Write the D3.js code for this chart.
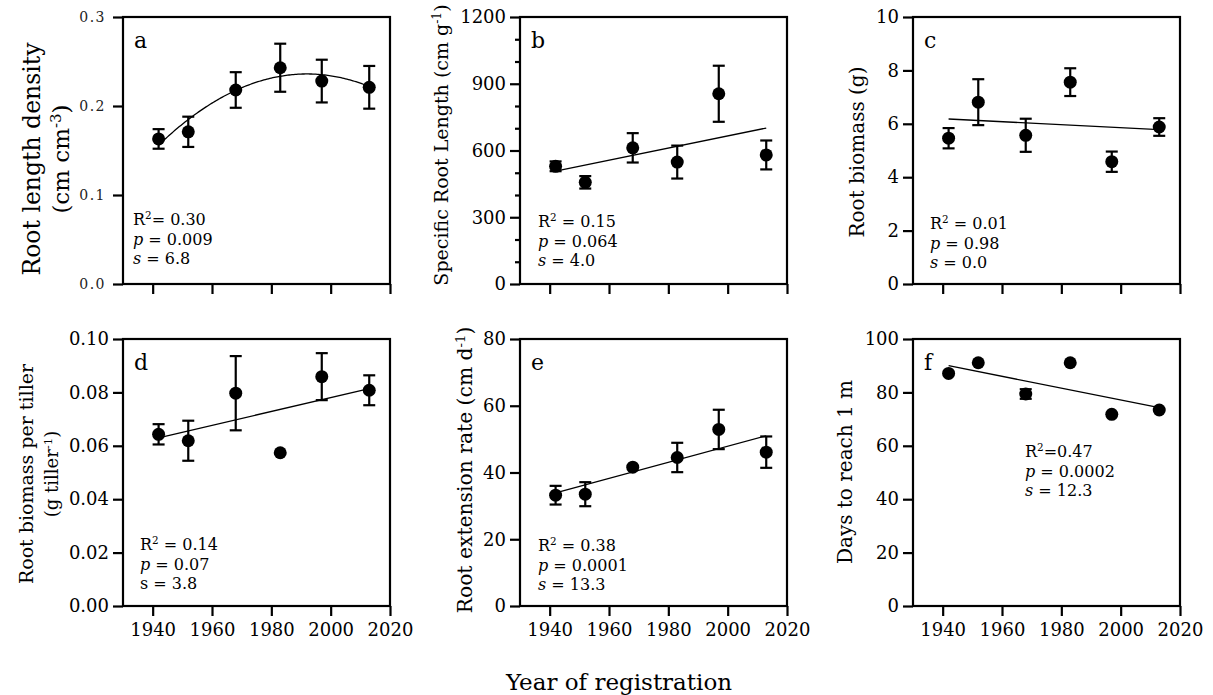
<!DOCTYPE html>
<html><head><meta charset="utf-8">
<script src="https://cdn.jsdelivr.net/npm/d3@7"></script>
<style>
html,body{margin:0;padding:0;background:#fff;}
svg text{font-family:"DejaVu Serif",serif;fill:#000;}
</style></head><body><svg id="chart" width="1213" height="695"></svg>
<script>
// Cultivar year of registration (shared x values)
const years = [1942, 1952, 1968, 1983, 1997, 2013];
const xTicks = [1940, 1960, 1980, 2000, 2020];

// (a) root length density, cm cm-3
const rldMean = [0.163, 0.171, 0.218, 0.243, 0.228, 0.221];
const rldErr  = [0.011, 0.017, 0.020, 0.027, 0.024, 0.024];
const rldTicks = [0.0, 0.1, 0.2, 0.3];
const rldFit = { peakYear: 1992, peak: 0.236, curvature: -3.2e-5 }; // quadratic fit

// (b) specific root length, cm g-1
const srlMean = [529, 457, 612, 548, 855, 580];
const srlErr  = [22, 28, 66, 74, 126, 65];
const srlTicks = [0, 300, 600, 900, 1200];
const srlMinor = [100, 200, 400, 500, 700, 800, 1000, 1100];
const srlFit = [507, 701]; // fitted values at first and last year

// (c) root biomass, g
const rbMean = [5.46, 6.81, 5.57, 7.56, 4.58, 5.88];
const rbErr  = [0.38, 0.86, 0.62, 0.52, 0.38, 0.33];
const rbTicks = [0, 2, 4, 6, 8, 10];
const rbFit = [6.18, 5.78];

// (d) root biomass per tiller, g tiller-1
const rbtMean = [0.0643, 0.0619, 0.0797, 0.0574, 0.0859, 0.0808];
const rbtErr  = [0.0038, 0.0075, 0.0139, 0.0, 0.0088, 0.0056];
const rbtTicks = [0.00, 0.02, 0.04, 0.06, 0.08, 0.10];
const rbtFit = [0.0630, 0.0814];

// (e) root extension rate, cm d-1
const rerMean = [33.2, 33.5, 41.6, 44.5, 52.9, 46.1];
const rerErr  = [2.8, 3.6, 0.0, 4.4, 5.9, 4.7];
const rerTicks = [0, 20, 40, 60, 80];
const rerFit = [33.9, 51.0];

// (f) days to reach 1 m
const daysMean = [87.1, 91.1, 79.4, 91.1, 71.8, 73.4];
const daysErr  = [0, 0, 1.8, 0, 0, 0];
const daysTicks = [0, 20, 40, 60, 80, 100];
const daysFit = [90.0, 74.3];

// Regression statistics text
const statsA = [[["R"], ["2", "sup"], ["= 0.30"]], [["p", "it"], [" = 0.009"]], [["s", "it"], [" = 6.8"]]];
const statsB = [[["R"], ["2", "sup"], [" = 0.15"]], [["p", "it"], [" = 0.064"]], [["s", "it"], [" = 4.0"]]];
const statsC = [[["R"], ["2", "sup"], [" = 0.01"]], [["p", "it"], [" = 0.98"]], [["s", "it"], [" = 0.0"]]];
const statsD = [[["R"], ["2", "sup"], [" = 0.14"]], [["p", "it"], [" = 0.07"]], [["s = 3.8"]]];
const statsE = [[["R"], ["2", "sup"], [" = 0.38"]], [["p", "it"], [" = 0.0001"]], [["s", "it"], [" = 13.3"]]];
const statsF = [[["R"], ["2", "sup"], ["=0.47"]], [["p", "it"], [" = 0.0002"]], [["s", "it"], [" = 12.3"]]];

// Axis titles
const titleA = [[["Root length density"]], [["(cm cm"], ["-3", "sup"], [")"]]];
const titleB = [[["Specific Root Length (cm g"], ["-1", "sup"], [")"]]];
const titleC = [[["Root biomass (g)"]]];
const titleD = [[["Root biomass per tiller"]], [["(g tiller"], ["-1", "sup"], [")"]]];
const titleE = [[["Root extension rate (cm d"], ["-1", "sup"], [")"]]];
const titleF = [[["Days to reach 1 m"]]];

const svg = d3.select("#chart");
svg.append("rect").attr("width", 1213).attr("height", 695).attr("fill", "#fff");

const colX = [[123, 390], [520, 787], [913, 1180]];
const rowY = [[17, 284], [339, 606]];

const panels = [
  { letter: "a", col: 0, row: 0, mean: rldMean, err: rldErr, ticks: rldTicks, max: 0.3,
    fmt: d3.format(".1f"), smallTicks: true, stats: statsA, statX: 133, statY: 225,
    title: titleA, titleX: [32, 61], titleY: 159, titleSize: [23.5, 23] },
  { letter: "b", col: 1, row: 0, mean: srlMean, err: srlErr, ticks: srlTicks, minor: srlMinor, max: 1200,
    fmt: d3.format("d"), fit: srlFit, stats: statsB, statX: 538, statY: 227,
    title: titleB, titleX: [441], titleY: 145, titleSize: [19] },
  { letter: "c", col: 2, row: 0, mean: rbMean, err: rbErr, ticks: rbTicks, max: 10,
    fmt: d3.format("d"), fit: rbFit, stats: statsC, statX: 930, statY: 229,
    title: titleC, titleX: [857], titleY: 152, titleSize: [20] },
  { letter: "d", col: 0, row: 1, mean: rbtMean, err: rbtErr, ticks: rbtTicks, max: 0.10,
    fmt: d3.format(".2f"), fit: rbtFit, xLabels: true, stats: statsD, statX: 140, statY: 550,
    title: titleD, titleX: [26, 52], titleY: 474, titleSize: [19, 18] },
  { letter: "e", col: 1, row: 1, mean: rerMean, err: rerErr, ticks: rerTicks, max: 80,
    fmt: d3.format("d"), fit: rerFit, xLabels: true, stats: statsE, statX: 538, statY: 551,
    title: titleE, titleX: [465], titleY: 470, titleSize: [20.3] },
  { letter: "f", col: 2, row: 1, mean: daysMean, err: daysErr, ticks: daysTicks, max: 100,
    fmt: d3.format("d"), fit: daysFit, xLabels: true, stats: statsF, statX: 1025, statY: 457,
    title: titleF, titleX: [845], titleY: 472, titleSize: [20] }
];

function writeRuns(textSel, runs) {
  runs.forEach((r, i) => {
    const ts = textSel.append("tspan").text(r[0]);
    if (r[1] === "it") ts.attr("font-style", "italic");
    if (r[1] === "sup") ts.attr("font-size", "0.65em").attr("dy", "-0.55em");
    else if (i > 0 && runs[i - 1][1] === "sup") ts.attr("dy", "0.36em"); // back to baseline
  });
}

panels.forEach(p => {
  const [x0, x1] = colX[p.col];
  const [y0, y1] = rowY[p.row];
  const x = d3.scaleLinear().domain([1930, 2020]).range([x0, x1]);
  const y = d3.scaleLinear().domain([0, p.max]).range([y1, y0]);
  const g = svg.append("g");

  // frame
  g.append("rect").attr("x", x0).attr("y", y0).attr("width", x1 - x0).attr("height", y1 - y0)
    .attr("fill", "none").attr("stroke", "#000").attr("stroke-width", 2.2);

  // y axis
  const yAxis = d3.axisLeft(y).tickValues(p.ticks).tickFormat(p.fmt).tickSize(10).tickPadding(p.smallTicks ? 7 : 4);
  const ya = g.append("g").attr("transform", `translate(${x0},0)`).call(yAxis);
  ya.select(".domain").remove();
  ya.selectAll(".tick line").attr("stroke", "#000").attr("stroke-width", 2.2);
  ya.selectAll(".tick text")
    .attr("font-size", p.smallTicks ? 14 : 18)
    .attr("letter-spacing", p.smallTicks ? "1.5px" : null)
    .style("fill", p.smallTicks ? "#222" : "#000");
  if (p.minor) {
    const ym = g.append("g").attr("transform", `translate(${x0},0)`)
      .call(d3.axisLeft(y).tickValues(p.minor).tickSize(5).tickFormat(""));
    ym.select(".domain").remove();
    ym.selectAll(".tick line").attr("stroke", "#000").attr("stroke-width", 2.2);
  }

  // x axis
  const xAxis = d3.axisBottom(x).tickValues(xTicks).tickSize(10).tickPadding(7)
    .tickFormat(p.xLabels ? d3.format("d") : "");
  const xa = g.append("g").attr("transform", `translate(0,${y1})`).call(xAxis);
  xa.select(".domain").remove();
  xa.selectAll(".tick line").attr("stroke", "#000").attr("stroke-width", 2.2);
  xa.selectAll(".tick text").attr("font-size", 18);

  // fitted line
  if (p.fit) {
    g.append("line")
      .attr("x1", x(years[0])).attr("y1", y(p.fit[0]))
      .attr("x2", x(years[years.length - 1])).attr("y2", y(p.fit[1]))
      .attr("stroke", "#000").attr("stroke-width", 1.3);
  } else {
    const pts = d3.range(years[0], years[years.length - 1] + 0.5, 0.5)
      .map(t => [t, rldFit.peak + rldFit.curvature * (t - rldFit.peakYear) ** 2]);
    g.append("path").attr("d", d3.line().x(d => x(d[0])).y(d => y(d[1]))(pts))
      .attr("fill", "none").attr("stroke", "#000").attr("stroke-width", 1.3);
  }

  // error bars
  const eb = g.selectAll(".eb").data(years.map((yr, i) => ({ yr, m: p.mean[i], e: p.err[i] })).filter(d => d.e > 0))
    .enter().append("g").attr("stroke", "#000").attr("stroke-width", 2.2);
  eb.append("line").attr("x1", d => x(d.yr)).attr("x2", d => x(d.yr))
    .attr("y1", d => y(d.m - d.e)).attr("y2", d => y(d.m + d.e));
  eb.append("line").attr("x1", d => x(d.yr) - 6).attr("x2", d => x(d.yr) + 6)
    .attr("y1", d => y(d.m + d.e)).attr("y2", d => y(d.m + d.e));
  eb.append("line").attr("x1", d => x(d.yr) - 6).attr("x2", d => x(d.yr) + 6)
    .attr("y1", d => y(d.m - d.e)).attr("y2", d => y(d.m - d.e));

  // points
  g.selectAll(".pt").data(years.map((yr, i) => ({ yr, m: p.mean[i] })))
    .enter().append("circle").attr("cx", d => x(d.yr)).attr("cy", d => y(d.m))
    .attr("r", 6.5).attr("fill", "#000");

  // panel letter
  g.append("text").attr("x", x0 + 11).attr("y", y0 + 31).attr("font-size", 22).text(p.letter);

  // statistics
  p.stats.forEach((runs, i) => {
    const t = g.append("text").attr("x", p.statX).attr("y", p.statY + i * 19.5).attr("font-size", 16);
    writeRuns(t, runs);
  });

  // y title
  p.title.forEach((runs, i) => {
    const t = g.append("text")
      .attr("transform", `translate(${p.titleX[i]},${p.titleY}) rotate(-90)`)
      .attr("text-anchor", "middle").attr("dy", "0.35em").attr("font-size", p.titleSize[i]);
    writeRuns(t, runs);
  });
});

svg.append("text").attr("x", 619).attr("y", 690).attr("text-anchor", "middle")
  .attr("font-size", 23).text("Year of registration");
</script></body></html>
